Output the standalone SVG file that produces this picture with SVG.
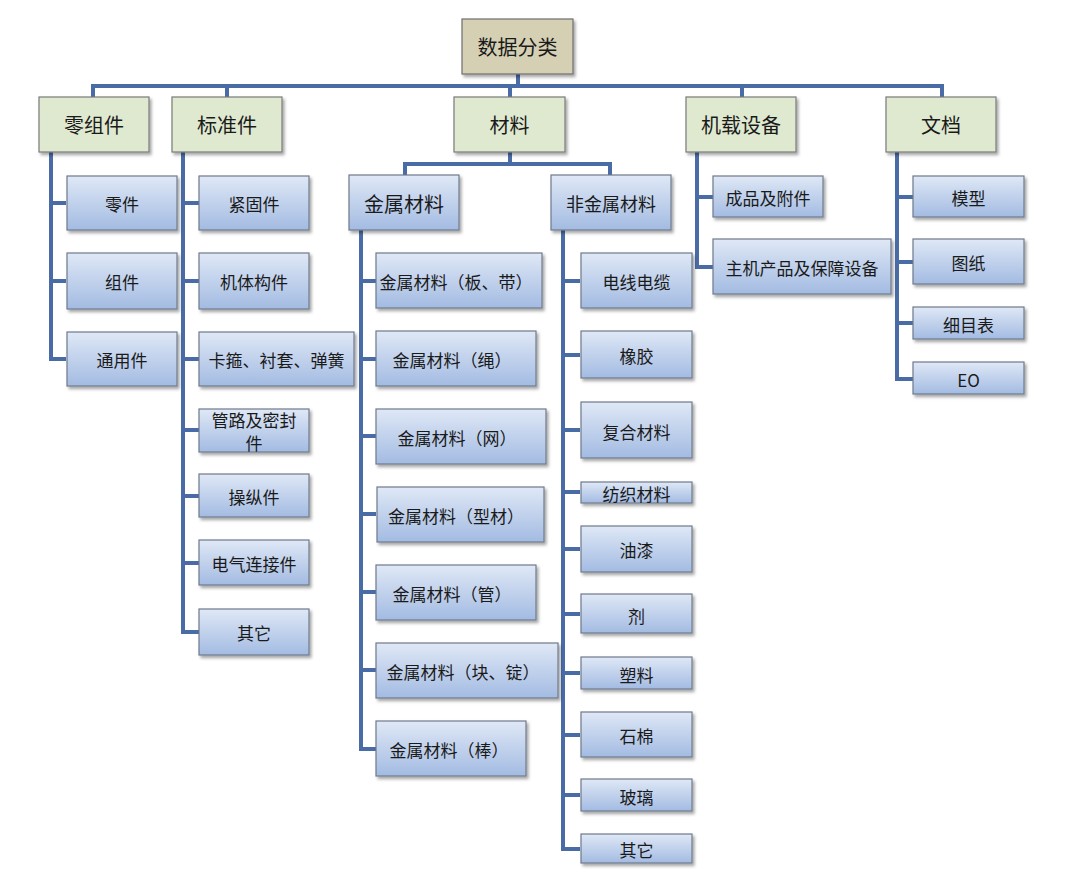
<svg xmlns="http://www.w3.org/2000/svg" width="1071" height="880" viewBox="0 0 1071 880">
<defs>
<linearGradient id="blue" x1="0" y1="0" x2="0" y2="1">
<stop offset="0" stop-color="#dfe8f6"/>
<stop offset="1" stop-color="#a3bbe2"/>
</linearGradient>
<filter id="sh" x="-10%" y="-10%" width="130%" height="140%">
<feDropShadow dx="2" dy="2.5" stdDeviation="1.5" flood-color="#000" flood-opacity="0.35"/>
</filter>
<style>
.b{fill:url(#blue);stroke:#6f7a8c;stroke-width:1.2;filter:url(#sh)}
.g{fill:#dfe9d0;stroke:#7a7a7a;stroke-width:1.2;filter:url(#sh)}
.r{fill:#d5d0b4;stroke:#6f6f6f;stroke-width:1.2;filter:url(#sh)}
text{font-family:"Noto Sans CJK SC","Noto Sans",sans-serif;fill:#1a1a1a;text-anchor:middle;dominant-baseline:central}
.t1{font-size:20px}
.t2{font-size:17px}
.c{fill:none;stroke:#4a6ca6;stroke-width:4}
</style>
</defs>
<rect width="1071" height="880" fill="#fff"/>
<g id="connectors" class="c">
<path d="M518 74V86M93 97V86H942V97M227 86V97M510 86V97M742 86V97"/>
<path d="M51 152V359H66M51 203H66M51 281H66"/>
<path d="M183 152V632H199M183 203H199M183 281H199M183 359H199M183 430H199M183 496H199M183 563H199"/>
<path d="M510 152V164M405 175V164H610V175"/>
<path d="M361 230V749H376M361 281H376M361 359H376M361 436H376M361 514H376M361 592H376M361 670H376"/>
<path d="M563 230V849H580M563 281H580M563 355H580M563 430H580M563 492H580M563 549H580M563 614H580M563 673H580M563 735H580M563 795H580"/>
<path d="M697 152V267H713M697 197H713"/>
<path d="M897 152V379H913M897 197H913M897 262H913M897 323H913"/>
</g>
<g id="root"><rect class="r" x="462" y="19" width="111" height="55"/><text class="t1" x="517.5" y="46.5">数据分类</text></g>
<g id="n-lingzujian"><rect class="g" x="39" y="97" width="110" height="55"/><text class="t1" x="94" y="124.5">零组件</text></g>
<g id="n-biaozhunjian"><rect class="g" x="172" y="97" width="110" height="55"/><text class="t1" x="227" y="124.5">标准件</text></g>
<g id="n-cailiao"><rect class="g" x="454" y="97" width="111" height="55"/><text class="t1" x="509.5" y="124.5">材料</text></g>
<g id="n-jizai"><rect class="g" x="686" y="97" width="110" height="55"/><text class="t1" x="741" y="124.5">机载设备</text></g>
<g id="n-wendang"><rect class="g" x="886" y="97" width="110" height="55"/><text class="t1" x="941" y="124.5">文档</text></g>

<g id="n-lingjian"><rect class="b" x="67" y="176" width="110" height="54"/><text class="t2" x="122" y="203">零件</text></g>
<g id="n-zujian"><rect class="b" x="67" y="253" width="110" height="56"/><text class="t2" x="122" y="281">组件</text></g>
<g id="n-tongyong"><rect class="b" x="67" y="332" width="110" height="54"/><text class="t2" x="122" y="359">通用件</text></g>

<g id="n-jingu"><rect class="b" x="199" y="176" width="110" height="54"/><text class="t2" x="254" y="203">紧固件</text></g>
<g id="n-jiti"><rect class="b" x="199" y="253" width="110" height="56"/><text class="t2" x="254" y="281">机体构件</text></g>
<g id="n-kagu"><rect class="b" x="199" y="332" width="155" height="54"/><text class="t2" x="276.5" y="359">卡箍、衬套、弹簧</text></g>
<g id="n-guanlu"><rect class="b" x="199" y="409" width="110" height="43"/><text class="t2" x="254" y="419">管路及密封</text><text class="t2" x="254" y="442">件</text></g>
<g id="n-caozong"><rect class="b" x="199" y="474" width="110" height="43"/><text class="t2" x="254" y="496">操纵件</text></g>
<g id="n-dianqi"><rect class="b" x="199" y="540" width="110" height="45"/><text class="t2" x="254" y="563">电气连接件</text></g>
<g id="n-qita1"><rect class="b" x="199" y="609" width="110" height="46"/><text class="t2" x="254" y="632">其它</text></g>

<g id="n-jinshu"><rect class="b" x="349" y="175" width="110" height="55"/><text class="t1" x="404" y="203">金属材料</text></g>
<g id="n-feijinshu"><rect class="b" x="551" y="175" width="120" height="55"/><text class="t2" x="611" y="203" style="font-size:18px">非金属材料</text></g>

<g id="n-banDai"><rect class="b" x="376" y="253" width="166" height="55"/><text class="t2" x="456" y="281">金属材料（板、带）</text></g>
<g id="n-sheng"><rect class="b" x="376" y="331" width="160" height="55"/><text class="t2" x="452" y="359">金属材料（绳）</text></g>
<g id="n-wang"><rect class="b" x="376" y="409" width="170" height="55"/><text class="t2" x="457" y="437">金属材料（网）</text></g>
<g id="n-xingcai"><rect class="b" x="377" y="487" width="167" height="55"/><text class="t2" x="456" y="515">金属材料（型材）</text></g>
<g id="n-guan"><rect class="b" x="376" y="565" width="160" height="55"/><text class="t2" x="452" y="593">金属材料（管）</text></g>
<g id="n-kuaiding"><rect class="b" x="376" y="643" width="182" height="55"/><text class="t2" x="463" y="671">金属材料（块、锭）</text></g>
<g id="n-bang"><rect class="b" x="376" y="721" width="150" height="55"/><text class="t2" x="449" y="749">金属材料（棒）</text></g>

<g id="n-dianxian"><rect class="b" x="581" y="253" width="111" height="55"/><text class="t2" x="636.5" y="281">电线电缆</text></g>
<g id="n-xiangjiao"><rect class="b" x="581" y="331" width="111" height="47"/><text class="t2" x="636.5" y="355">橡胶</text></g>
<g id="n-fuhe"><rect class="b" x="581" y="402" width="111" height="56"/><text class="t2" x="636.5" y="431">复合材料</text></g>
<g id="n-fangzhi"><rect class="b" x="581" y="482" width="111" height="21"/><text class="t2" x="636.5" y="493">纺织材料</text></g>
<g id="n-youqi"><rect class="b" x="581" y="526" width="111" height="46"/><text class="t2" x="636.5" y="549">油漆</text></g>
<g id="n-ji"><rect class="b" x="581" y="594" width="111" height="39"/><text class="t2" x="636.5" y="615">剂</text></g>
<g id="n-suliao"><rect class="b" x="581" y="657" width="111" height="32"/><text class="t2" x="636.5" y="674">塑料</text></g>
<g id="n-shimian"><rect class="b" x="581" y="712" width="111" height="45"/><text class="t2" x="636.5" y="735">石棉</text></g>
<g id="n-boli"><rect class="b" x="581" y="779" width="111" height="32"/><text class="t2" x="636.5" y="796">玻璃</text></g>
<g id="n-qita2"><rect class="b" x="581" y="834" width="111" height="29"/><text class="t2" x="636.5" y="849">其它</text></g>

<g id="n-chengpin"><rect class="b" x="713" y="176" width="110" height="41"/><text class="t2" x="768" y="197">成品及附件</text></g>
<g id="n-zhuji"><rect class="b" x="713" y="239" width="178" height="55"/><text class="t2" x="802" y="267">主机产品及保障设备</text></g>

<g id="n-moxing"><rect class="b" x="913" y="176" width="111" height="41"/><text class="t2" x="968.5" y="197">模型</text></g>
<g id="n-tuzhi"><rect class="b" x="913" y="239" width="111" height="45"/><text class="t2" x="968.5" y="262">图纸</text></g>
<g id="n-ximu"><rect class="b" x="913" y="307" width="111" height="32"/><text class="t2" x="968.5" y="324">细目表</text></g>
<g id="n-eo"><rect class="b" x="913" y="362" width="111" height="32"/><text class="t2" x="968.5" y="379">EO</text></g>
</svg>
